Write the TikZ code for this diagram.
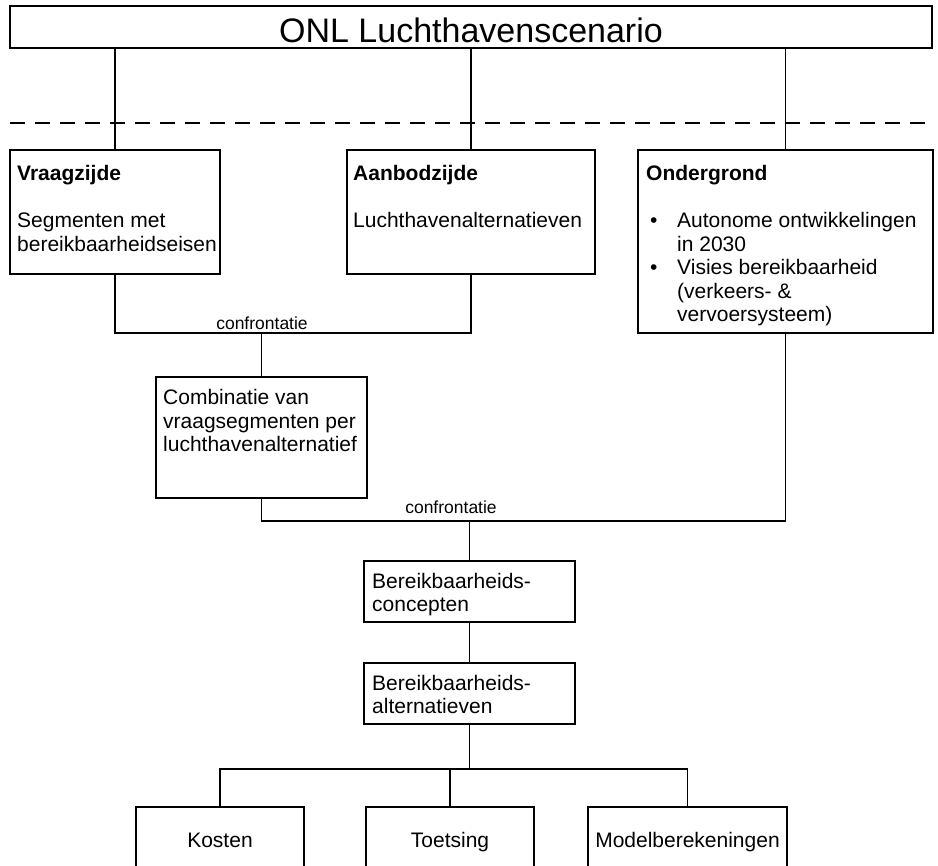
\documentclass[tikz,border=0pt]{standalone}
\usepackage{fontspec}
\setmainfont{Liberation Sans}
\usetikzlibrary{positioning}

\tikzset{
  box/.style={draw, line width=1.9pt, inner sep=0pt},
  txt/.style={anchor=base west, inner sep=0pt, font=\fontsize{21}{23.5}\selectfont},
  txtc/.style={txt, anchor=base},
  lbl/.style={anchor=base, inner sep=0pt, font=\fontsize{17.5}{20}\selectfont},
  link/.style={line width=1.9pt},
}
\newcommand{\boxlines}[1]{\parbox[t]{300pt}{\raggedright #1}}
\newcommand{\itembul}{\hspace*{4pt}\makebox[27pt][l]{\textbullet}}
\newcommand{\itemind}{\hspace*{31pt}}

\begin{document}
\begin{tikzpicture}[x=1pt, y=-1pt]
  \useasboundingbox (0,0) rectangle (938,866);
  \clip (0,0) rectangle (938,866);

  % scenario en scheiding
  \node[box, minimum width=922pt, minimum height=42pt] (scen) at (471,27) {};
  \node[anchor=base, inner sep=0pt, font=\fontsize{34}{40}\selectfont] (title) at (471,43) {ONL Luchthavenscenario};
  \draw[link, dash pattern=on 15pt off 10pt] (10,123) -- (932,123);

  % bovenste rij
  \node[box, minimum width=210pt, minimum height=124pt] (vraag) at (115,212) {};
  \node[box, minimum width=248pt, minimum height=124pt] (aanbod) at (471,212) {};
  \node[box, minimum width=295pt, minimum height=183pt] (onder) at (785.5,241.5) {};
  \node[txt] (vraagtxt) at (17,181) {\boxlines{\textbf{Vraagzijde}\\[23.5pt]Segmenten met\\bereikbaarheidseisen}};
  \node[txt] (aanbodtxt) at (353,181) {\boxlines{\textbf{Aanbodzijde}\\[23.5pt]Luchthavenalternatieven}};
  \node[txt] (ondertxt) at (646,181) {\boxlines{\textbf{Ondergrond}\\[23.5pt]
    \itembul Autonome ontwikkelingen\\
    \itemind in 2030\\
    \itembul Visies bereikbaarheid\\
    \itemind (verkeers- \&\\
    \itemind vervoersysteem)}};

  % middenstuk
  \node[box, minimum width=211pt, minimum height=121pt] (comb) at (261.5,437.5) {};
  \node[txt] (combtxt) at (163,405) {\boxlines{Combinatie van\\vraagsegmenten per\\luchthavenalternatief}};
  \node[box, minimum width=211pt, minimum height=61pt] (conc) at (469.5,591.5) {};
  \node[txt] (conctxt) at (372,588) {\boxlines{Bereikbaarheids-\\concepten}};
  \node[box, minimum width=211pt, minimum height=61pt] (alt) at (469.5,693.5) {};
  \node[txt] (alttxt) at (372,690) {\boxlines{Bereikbaarheids-\\alternatieven}};

  % onderste rij
  \node[box, minimum width=168pt, minimum height=100pt] (kosten) at (220,857) {};
  \node[box, minimum width=168pt, minimum height=100pt] (toets) at (450,857) {};
  \node[box, minimum width=199pt, minimum height=100pt] (model) at (687.5,857) {};
  \node[txtc] (kostentxt) at (220,847) {Kosten};
  \node[txtc] (toetstxt) at (450,847) {Toetsing};
  \node[txtc] (modeltxt) at (687.5,847) {Modelberekeningen};

  % verbindingen
  \draw[link] (scen.south -| vraag.north) -- (vraag.north);
  \draw[link] (scen.south -| aanbod.north) -- (aanbod.north);
  \draw[link] (scen.south -| onder.north) -- (onder.north);

  \coordinate (conf1) at (261.5,333);
  \draw[link] (vraag.south) |- (conf1) -| (aanbod.south);
  \draw[link] (conf1) -- (comb.north);
  \node[lbl] (conf1lbl) at (262,330) {confrontatie};

  \coordinate (conf2) at (469.5,521);
  \draw[link] (comb.south) |- (conf2) -| (onder.south);
  \draw[link] (conf2) -- (conc.north);
  \node[lbl] (conf2lbl) at (451,514) {confrontatie};

  \draw[link] (conc.south) -- (alt.north);
  \coordinate (split) at (469.5,769);
  \draw[link] (alt.south) -- (split);
  \draw[link] (kosten.north) |- (split) -| (model.north);
  \draw[link] (toets.north) -- (toets.north |- split);
\end{tikzpicture}
\end{document}
